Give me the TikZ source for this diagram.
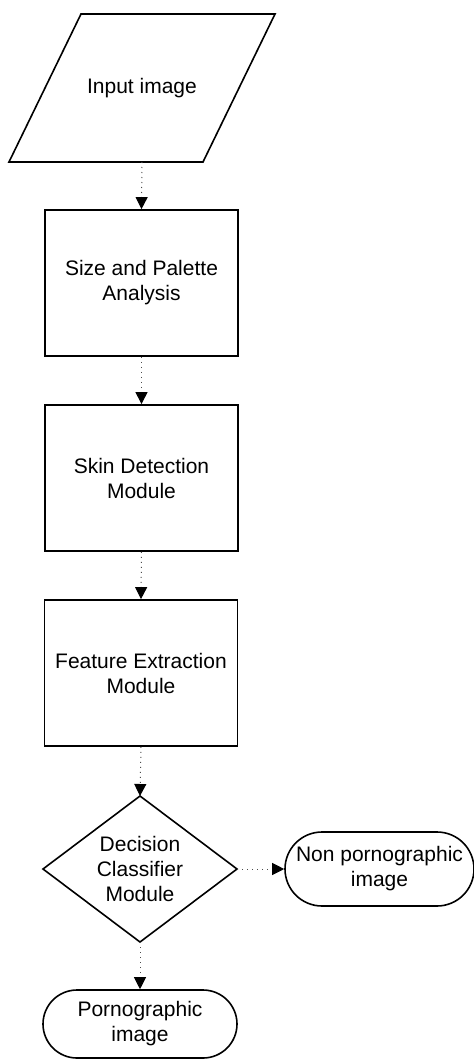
\documentclass[tikz,border=0pt]{standalone}
\usepackage{fontspec}
\setmainfont{Liberation Sans}
\usetikzlibrary{arrows.meta,calc}
\begin{document}
\begin{tikzpicture}[x=0.5pt,y=-0.5pt,
  every node/.style={font=\fontsize{10.5}{12.5}\selectfont, align=center, inner sep=0pt},
  procbox/.style={draw, line width=0.9pt, minimum width=96.5pt, minimum height=73pt},
  termbox/.style={draw, line width=0.8pt, rounded corners=#1},
  outline/.style={draw, line width=0.8pt, line join=miter},
  flow/.style={draw=black!70, line width=0.5pt, dotted,
    -{Triangle[length=6pt,width=6pt,black]}, shorten >=0pt}
]
\useasboundingbox (0,0) rectangle (474,1060);

% input parallelogram
\coordinate (inTL) at (81,14);
\coordinate (inTR) at (275,14);
\coordinate (inBR) at (203,162);
\coordinate (inBL) at (9,162);
\coordinate (inS) at (142,162);
\draw[outline] (inTL) -- (inTR) -- (inBR) -- (inBL) -- cycle;
\node (input) at (142,88) {Input image};

% processing steps
\node[procbox] (size)  at (141.5,283) {Size and Palette\\Analysis};
\node[procbox] (skin)  at (141.5,478) {Skin Detection\\Module};
\node[procbox] (feat)  at (141,673)   {Feature Extraction\\Module};

% decision diamond
\coordinate (dN) at (140,796);
\coordinate (dE) at (237,869);
\coordinate (dS) at (140,942);
\coordinate (dW) at (43,869);
\draw[outline] (dN) -- (dE) -- (dS) -- (dW) -- cycle;
\node (dec) at (140,869) {Decision\\Classifier\\Module};

% terminals
\node[termbox=18.5pt, minimum width=94.5pt, minimum height=37pt] (nonp) at (379.5,869) {Non pornographic\\image};
\node[termbox=17pt, minimum width=97pt, minimum height=34pt] (porn) at (140,1024) {Pornographic\\image};

% connectors
\draw[flow] (inS) -- (size.north);
\draw[flow] (size.south) -- (skin.north);
\draw[flow] (skin.south) -- (feat.north);
\draw[flow] (feat.south) -- (dN);
\draw[flow] (dE) -- (nonp.west);
\draw[flow] (dS) -- (porn.north);
\end{tikzpicture}
\end{document}
